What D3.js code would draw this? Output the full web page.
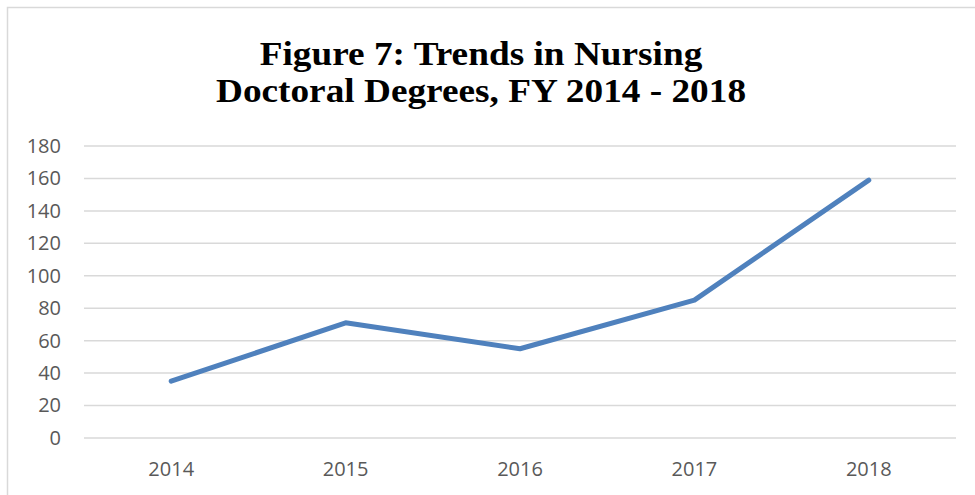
<!DOCTYPE html>
<html>
<head>
<meta charset="utf-8">
<script src="https://cdn.jsdelivr.net/npm/d3@7"></script>
<style>
  body { margin: 0; background: #fff; }
</style>
</head>
<body>
<div id="chart"></div>
<script>
// data
var years = ['2014', '2015', '2016', '2017', '2018'];
var degrees = [35, 71, 55, 85, 159];
var yTicks = [0, 20, 40, 60, 80, 100, 120, 140, 160, 180];
var titleLines = ['Figure 7: Trends in Nursing', 'Doctoral Degrees, FY 2014 - 2018'];

var attrs = {
    svgWidth: 975,
    svgHeight: 495,
    plotLeft: 84,
    plotRight: 956,
    plotTop: 146,
    plotBottom: 438
};

var svg = d3.select('#chart')
    .append('svg')
    .attr('width', attrs.svgWidth)
    .attr('height', attrs.svgHeight);

// chart frame
svg.append('rect')
    .attr('x', 7.5)
    .attr('y', 7.5)
    .attr('width', 1000)
    .attr('height', 600)
    .attr('fill', 'none')
    .attr('stroke', '#d9d9d9')
    .attr('stroke-width', 1.5);

// title (the original face is a little wider, so stretch it)
svg.append('g')
    .attr('transform', 'translate(481,0) scale(1.13,1)')
    .append('text')
    .attr('text-anchor', 'middle')
    .attr('font-family', '"Liberation Serif", "Times New Roman", serif')
    .attr('font-weight', 'bold')
    .attr('font-size', 33)
    .attr('fill', '#000')
    .selectAll('tspan')
    .data(titleLines)
    .enter()
    .append('tspan')
    .attr('x', 0)
    .attr('y', function (d, i) { return 65 + i * 37; })
    .text(function (d) { return d; });

var x = d3.scaleBand()
    .domain(years)
    .range([attrs.plotLeft, attrs.plotRight]);

var y = d3.scaleLinear()
    .domain([0, 180])
    .range([attrs.plotBottom, attrs.plotTop]);

// gridlines
svg.append('g')
    .selectAll('line')
    .data(yTicks)
    .enter()
    .append('line')
    .attr('x1', attrs.plotLeft)
    .attr('x2', attrs.plotRight)
    .attr('y1', function (d) { return y(d); })
    .attr('y2', function (d) { return y(d); })
    .attr('stroke', '#d9d9d9')
    .attr('stroke-width', 1.5);

// y axis labels
var yAxis = d3.axisLeft(y).tickValues(yTicks).tickSize(0).tickPadding(0);
var yg = svg.append('g')
    .attr('transform', 'translate(61,0)')
    .call(yAxis);
yg.select('.domain').remove();
yg.selectAll('text')
    .attr('font-family', '"Open Sans", "Noto Sans", sans-serif')
    .attr('font-size', 20)
    .attr('fill', '#595959');

// x axis labels
var xAxis = d3.axisBottom(x).tickSize(0).tickPadding(0);
var xg = svg.append('g')
    .attr('transform', 'translate(0,462)')
    .call(xAxis);
xg.select('.domain').remove();
xg.selectAll('text')
    .attr('font-family', '"Open Sans", "Noto Sans", sans-serif')
    .attr('font-size', 20)
    .attr('fill', '#595959');

// line
var line = d3.line()
    .x(function (d, i) { return x(years[i]) + x.bandwidth() / 2; })
    .y(function (d) { return y(d); });

svg.append('path')
    .datum(degrees)
    .attr('d', line)
    .attr('fill', 'none')
    .attr('stroke', '#4f81bd')
    .attr('stroke-width', 5)
    .attr('stroke-linecap', 'round')
    .attr('stroke-linejoin', 'round');
</script>
</body>
</html>
